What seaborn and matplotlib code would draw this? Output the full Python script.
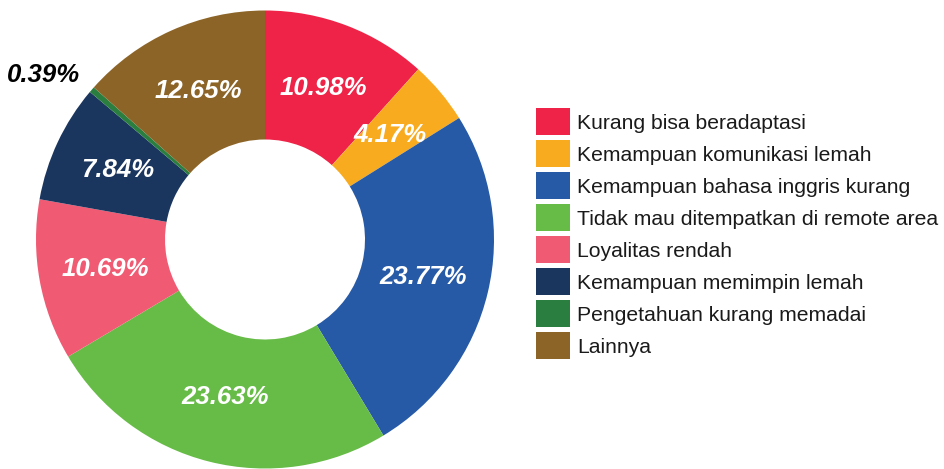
import matplotlib
matplotlib.use('Agg')
import matplotlib.pyplot as plt
import seaborn as sns
from matplotlib.patches import Rectangle

# data
categories = ['Kurang bisa beradaptasi', 'Kemampuan komunikasi lemah',
              'Kemampuan bahasa inggris kurang', 'Tidak mau ditempatkan di remote area',
              'Loyalitas rendah', 'Kemampuan memimpin lemah',
              'Pengetahuan kurang memadai', 'Lainnya']
values = [10.98, 4.17, 23.77, 23.63, 10.69, 7.84, 0.39, 12.65]
colors = ['#EE2347', '#F9AB20', '#2659A6', '#66BC46',
          '#F05A73', '#1A355E', '#2A7E3F', '#8D6427']

sns.set_theme(style='white')
plt.rcParams['font.family'] = ['Liberation Sans', 'DejaVu Sans']

W, H = 945, 469
fig = plt.figure(figsize=(W / 100, H / 100), dpi=100)
ax = fig.add_axes([0, 0, 1, 1])

# donut, pixel units so layout matches the picture
cx, cy, R, r_in = 265, H - 239.5, 229, 100
wedges, texts, autotexts = ax.pie(
    values, colors=colors, startangle=90, counterclock=False,
    center=(cx, cy), radius=R, autopct='%.2f%%', pctdistance=0.71,
    wedgeprops=dict(width=R - r_in, linewidth=0))

for t, v in zip(autotexts, values):
    t.set_text(f'{v:.2f}%')
    t.set_color('white')
    t.set_fontsize(18.5)
    t.set_fontweight('bold')
    t.set_fontstyle('italic')

# tiny slice gets its label outside in black
small = values.index(0.39)
autotexts[small].set_color('black')
autotexts[small].set_position((cx - 222, cy + 164.5))

# legend on the right
for i, (cat, col) in enumerate(zip(categories, colors)):
    y = H - (121.5 + 32 * i)
    ax.add_patch(Rectangle((536, y - 13.5), 34, 27, color=col, linewidth=0))
    ax.text(577, y, cat, va='center_baseline', ha='left', fontsize=15.2, color='#1a1a1a')

ax.set_xlim(0, W)
ax.set_ylim(0, H)
ax.set_aspect('equal')
ax.axis('off')

fig.savefig('out.png', dpi=100)
